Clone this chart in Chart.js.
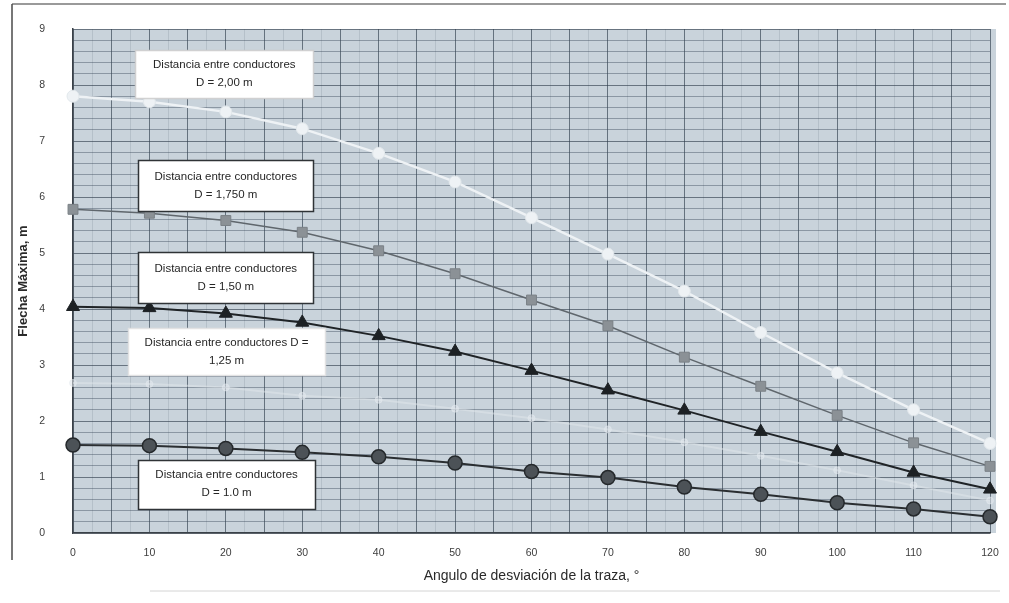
<!DOCTYPE html>
<html>
<head>
<meta charset="utf-8">
<script src="https://cdn.jsdelivr.net/npm/chart.js@4/dist/chart.umd.min.js"></script>
<style>
  html, body { margin: 0; padding: 0; background: #ffffff; }
  #wrap { width: 1009px; height: 603px; position: relative; }
</style>
</head>
<body>
<div id="wrap"><canvas id="c" width="1009" height="603"></canvas></div>
<script>
// Angle of deviation of the line route, degrees
const angles = [0, 10, 20, 30, 40, 50, 60, 70, 80, 90, 100, 110, 120];

// Maximum sag (m) for each conductor spacing D
const sagD200 = [7.80, 7.70, 7.52, 7.22, 6.78, 6.27, 5.63, 4.98, 4.32, 3.58, 2.86, 2.20, 1.60];
const sagD175 = [5.78, 5.71, 5.58, 5.37, 5.04, 4.63, 4.16, 3.70, 3.14, 2.62, 2.10, 1.61, 1.19];
const sagD150 = [4.04, 4.02, 3.92, 3.76, 3.52, 3.24, 2.90, 2.55, 2.19, 1.81, 1.45, 1.08, 0.78];
const sagD125 = [2.68, 2.66, 2.60, 2.45, 2.38, 2.22, 2.05, 1.85, 1.62, 1.38, 1.12, 0.85, 0.58];
const sagD100 = [1.57, 1.56, 1.51, 1.44, 1.36, 1.25, 1.10, 0.99, 0.82, 0.69, 0.54, 0.43, 0.29];

// Label boxes: text lines for each spacing
const labelD200 = ['Distancia entre conductores', 'D = 2,00 m'];
const labelD175 = ['Distancia entre conductores', 'D = 1,750 m'];
const labelD150 = ['Distancia entre conductores', 'D = 1,50 m'];
const labelD125 = ['Distancia entre conductores D =', '1,25 m'];
const labelD100 = ['Distancia entre conductores', 'D = 1.0 m'];

const xTitle = 'Angulo de desviación de la traza, °';
const yTitle = 'Flecha Máxima, m';

const FONT = '"Liberation Sans", Arial, sans-serif';

function pts(ys) { return angles.map((a, i) => ({ x: a, y: ys[i] })); }

// Boxes anchored in data coordinates (angle, sag), sized in pixels
const boxes = [
  { lines: labelD200, ax: 19.8, ay: 8.20, w: 178, h: 48, border: 'rgba(205,205,205,0.9)' },
  { lines: labelD175, ax: 20.0, ay: 6.20, w: 175, h: 51, border: '#2f3336' },
  { lines: labelD150, ax: 20.0, ay: 4.56, w: 175, h: 51, border: '#2f3336' },
  { lines: labelD125, ax: 20.1, ay: 3.24, w: 197, h: 47, border: 'rgba(225,225,225,0.9)' },
  { lines: labelD100, ax: 20.1, ay: 0.87, w: 177, h: 49, border: '#2f3336' }
];

const plotBackground = {
  id: 'plotBackground',
  beforeDraw(chart) {
    const { ctx, chartArea: a } = chart;
    ctx.save();
    // page frame
    ctx.strokeStyle = '#9a9a9a';
    ctx.lineWidth = 2;
    ctx.beginPath(); ctx.moveTo(12, 4); ctx.lineTo(1006, 4); ctx.stroke();
    ctx.strokeStyle = '#4a4a4a';
    ctx.lineWidth = 1.5;
    ctx.beginPath(); ctx.moveTo(12, 4); ctx.lineTo(12, 560); ctx.stroke();
    ctx.strokeStyle = 'rgba(185,185,185,0.6)';
    ctx.lineWidth = 1;
    ctx.beginPath(); ctx.moveTo(150, 591); ctx.lineTo(1000, 591); ctx.stroke();
    // plot area fill
    ctx.fillStyle = '#c9d3db';
    ctx.fillRect(a.left, a.top, a.right - a.left + 6, a.bottom - a.top);
    ctx.restore();
  }
};

const labelBoxes = {
  id: 'labelBoxes',
  afterDatasetsDraw(chart) {
    const { ctx, scales } = chart;
    ctx.save();
    boxes.forEach(b => {
      const cx = scales.x.getPixelForValue(b.ax);
      const cy = scales.y.getPixelForValue(b.ay);
      const x0 = Math.round(cx - b.w / 2) + 0.5;
      const y0 = Math.round(cy - b.h / 2) + 0.5;
      ctx.fillStyle = '#ffffff';
      ctx.fillRect(x0, y0, b.w, b.h);
      ctx.strokeStyle = b.border;
      ctx.lineWidth = 1.5;
      ctx.strokeRect(x0, y0, b.w, b.h);
      ctx.fillStyle = '#262626';
      ctx.font = '11.5px ' + FONT;
      ctx.textAlign = 'center';
      ctx.textBaseline = 'middle';
      ctx.fillText(b.lines[0], cx, cy - 9);
      ctx.fillText(b.lines[1], cx, cy + 9);
    });
    ctx.restore();
  }
};

const isWhole = (v, step) => Math.abs(v / step - Math.round(v / step)) < 1e-6;

new Chart(document.getElementById('c'), {
  type: 'line',
  data: {
    datasets: [
      {
        label: 'D = 2,00 m', data: pts(sagD200),
        borderColor: '#eef2f5', borderWidth: 2.5,
        pointStyle: 'circle', pointRadius: 6,
        pointBackgroundColor: '#eef2f5', pointBorderColor: '#e2e8ec', pointBorderWidth: 1
      },
      {
        label: 'D = 1,750 m', data: pts(sagD175),
        borderColor: '#5f666c', borderWidth: 1.5,
        pointStyle: 'rect', pointRadius: 7,
        pointBackgroundColor: '#8b9196', pointBorderColor: '#7a8086', pointBorderWidth: 1
      },
      {
        label: 'D = 1,50 m', data: pts(sagD150),
        borderColor: '#1f2326', borderWidth: 2,
        pointStyle: 'triangle', pointRadius: 7.5,
        pointBackgroundColor: '#1d2124', pointBorderColor: '#1d2124', pointBorderWidth: 1
      },
      {
        label: 'D = 1,25 m', data: pts(sagD125),
        borderColor: 'rgba(226,231,236,0.5)', borderWidth: 2,
        pointStyle: 'circle', pointRadius: 3.5,
        pointBackgroundColor: 'rgba(228,233,238,0.55)', pointBorderColor: 'rgba(228,233,238,0.55)', pointBorderWidth: 1
      },
      {
        label: 'D = 1.0 m', data: pts(sagD100),
        borderColor: '#2a2e31', borderWidth: 2,
        pointStyle: 'circle', pointRadius: 7,
        pointBackgroundColor: '#4c5257', pointBorderColor: '#25292c', pointBorderWidth: 1.5
      }
    ]
  },
  options: {
    responsive: false,
    animation: false,
    events: [],
    datasets: { line: { clip: false } },
    layout: { padding: { left: 16, right: 19, top: 29, bottom: 18 } },
    plugins: { legend: { display: false }, tooltip: { enabled: false }, title: { display: false } },
    elements: { line: { tension: 0 } },
    scales: {
      x: {
        type: 'linear', min: 0, max: 120,
        afterFit(s) { s.height = 52; s.paddingLeft = 0; s.paddingRight = 0; },
        border: { display: true, color: '#3a4148', width: 1.5 },
        grid: {
          drawTicks: false,
          color: c => isWhole(c.tick.value, 5) ? 'rgba(40,55,70,0.62)' : 'rgba(80,95,110,0.16)',
          lineWidth: 1
        },
        ticks: {
          stepSize: 2.5, autoSkip: false, maxRotation: 0, padding: 14,
          color: '#3d3d3d', font: { family: FONT, size: 10.5 },
          callback: v => isWhole(v, 10) ? String(Math.round(v)) : ''
        },
        title: {
          display: true, text: xTitle, color: '#2a2a2a',
          font: { family: FONT, size: 14 }, padding: { top: 6, bottom: 0 }
        }
      },
      y: {
        type: 'linear', min: 0, max: 9,
        afterFit(s) { s.width = 57; s.paddingTop = 0; s.paddingBottom = 0; },
        border: { display: true, color: '#3a4148', width: 1.5 },
        grid: {
          drawTicks: false,
          color: c => isWhole(c.tick.value, 1) ? 'rgba(45,58,72,0.62)' : 'rgba(55,70,85,0.42)',
          lineWidth: 1
        },
        ticks: {
          stepSize: 0.2, autoSkip: false, padding: 28,
          color: '#3d3d3d', font: { family: FONT, size: 10.5 },
          callback: v => isWhole(v, 1) ? String(Math.round(v)) : ''
        },
        title: {
          display: true, text: yTitle, color: '#2a2a2a',
          font: { family: FONT, size: 13, weight: 'bold' }, padding: { top: 0, bottom: 0 }
        }
      }
    }
  },
  plugins: [plotBackground, labelBoxes]
});
</script>
</body>
</html>
